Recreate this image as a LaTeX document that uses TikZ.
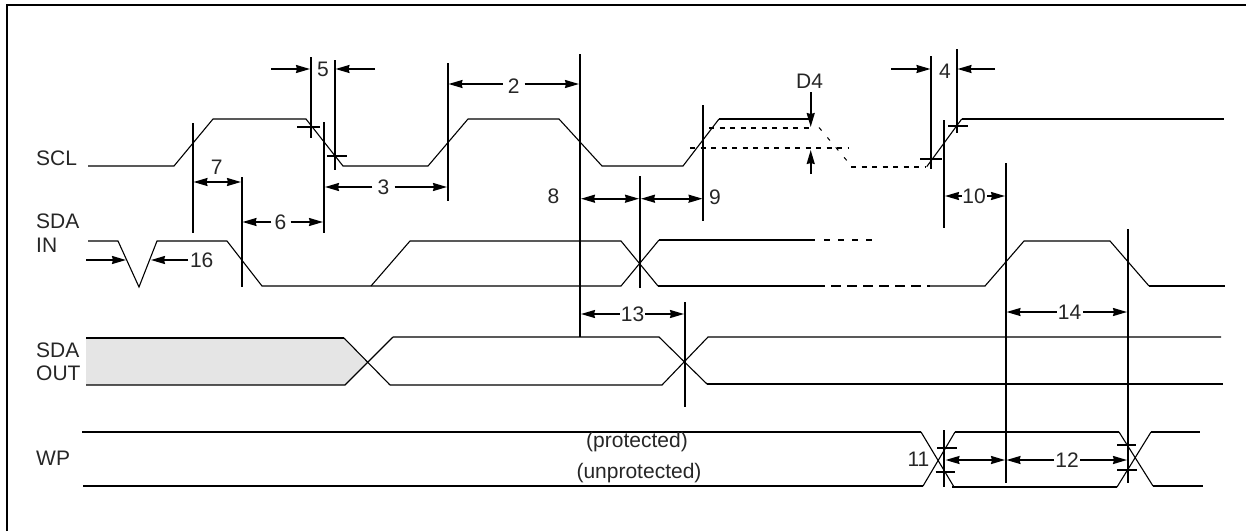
\documentclass[tikz,border=0pt]{standalone}
\usepackage{fontspec}
\setmainfont{Liberation Sans}
\usetikzlibrary{arrows.meta}
\tikzset{
    wave/.style={line width=1.1pt, line join=miter},
    heavy/.style={line width=1.8pt},
    guide/.style={line width=1.9pt},
    tick/.style={line width=1.7pt},
    dotty/.style={line width=1.7pt, dash pattern=on 5pt off 5.5pt},
    dim/.style={line width=1.7pt, -{Stealth[length=14pt,width=8pt,inset=1pt]}},
    dimboth/.style={line width=1.7pt, {Stealth[length=14pt,width=8pt,inset=1pt]}-{Stealth[length=14pt,width=8pt,inset=1pt]}},
    lab/.style={font=\fontsize{21}{23}\selectfont, inner sep=0pt, text=black!85},
    sig/.style={lab, anchor=west}
}
\begin{document}
\begin{tikzpicture}[x=1pt,y=-1pt]
                \useasboundingbox (0,0) rectangle (1246,531);
                \draw [line width=2pt] (7,531) -- (7,4.5) -- (1246,4.5);
                % signal names
                \node[sig] (scl) at (36,158) {SCL};
                \node[sig] (sdain) at (36,221.5) {SDA};
                \node[sig] (in) at (36,245.5) {IN};
                \node[sig] (sdaout) at (36,350) {SDA};
                \node[sig] (out) at (36,373.5) {OUT};
                \node[sig] (wp) at (36,458) {WP};
                % SCL
                \draw [wave] (88,166) -- (174,166) -- (213,119) -- (306,119) -- (343,166) -- (428,166) -- (468,119) -- (559,119) -- (602,166) -- (683,166) -- (719,119);
                \draw [heavy] (719,119) -- (811,119);
                \draw [dotty] (709,127.7) -- (812,127.7);
                \draw [dotty] (690,147.7) -- (848,147.7);
                \draw [line width=1pt, dash pattern=on 4pt off 9pt] (819,127.5) -- (852,166.7);
                \draw [dotty] (851,166.7) -- (926,166.7);
                \draw [wave] (926.7,166.7) -- (961.7,119);
                \draw [heavy] (961.7,119) -- (1224,119);
                % SDA IN
                \draw [wave] (88,241) -- (118,241) -- (139,287) -- (157,241) -- (227,241) -- (262,286) -- (621,286) -- (659,240);
                \draw [wave] (371,286) -- (410,241) -- (621,241) -- (658,286);
                \draw [heavy] (659,240) -- (815,240);
                \draw [line width=1.7pt, dash pattern=on 6pt off 8pt] (824,240) -- (877,240);
                \draw [heavy] (658,286) -- (815,286);
                \draw [line width=1.2pt, dash pattern=on 10pt off 6pt] (815,286) -- (930,286);
                \draw [wave] (930,286) -- (985,286) -- (1024,241) -- (1110,241) -- (1149,286);
                \draw [heavy] (1149,286) -- (1225,286);
                % SDA OUT
                \fill [black!10] (86,338) -- (344,338) -- (367.5,361.5) -- (345,385) -- (86,385) -- cycle;
                \draw [heavy] (86,338) -- (344,338);
                \draw [wave] (344,338) -- (390,385);
                \draw [wave] (86,385) -- (345,385) -- (393,337);
                \draw [wave] (393,337) -- (659,337) -- (707,384);
                \draw [wave] (390,385) -- (662,385) -- (708,337) -- (1221,337);
                \draw [heavy] (707,384) -- (1223,384);
                % WP
                \draw [heavy] (82,432) -- (921,432);
                \draw [heavy] (83,486) -- (923,486);
                \draw [wave] (921,432) -- (954,487);
                \draw [wave] (923,486) -- (955,432);
                \draw [heavy] (955,432) -- (1119,432);
                \draw [heavy] (952,487) -- (1117,487);
                \draw [wave] (1119,432) -- (1153,486);
                \draw [wave] (1117,487) -- (1151,432);
                \draw [heavy] (1151,432) -- (1200,432);
                \draw [heavy] (1153,486) -- (1203,486);
                % timing guides
                \draw [guide] (192.7,123) -- (192.7,233);
                \draw [guide] (241.7,177) -- (241.7,287);
                \draw [guide] (310.7,57) -- (310.7,138);
                \draw [guide] (324,122) -- (324,233);
                \draw [guide] (334.7,60) -- (334.7,170);
                \draw [guide] (447.7,63) -- (447.7,200.7);
                \draw [guide] (580,54) -- (580,337);
                \draw [guide] (639.7,176) -- (639.7,287.7);
                \draw [guide] (685,302) -- (685,406.7);
                \draw [guide] (703,105) -- (703,220.7);
                \draw [guide] (931,56) -- (931,169);
                \draw [guide] (944,120) -- (944,228);
                \draw [guide] (956.7,49) -- (956.7,133);
                \draw [guide] (1005.7,163) -- (1005.7,482.7);
                \draw [guide] (1127.7,229) -- (1127.7,482.7);
                \draw [guide] (944,430) -- (944,486.7);
                % level ticks
                \draw [tick] (297,126.7) -- (320,126.7);
                \draw [tick] (327,155.7) -- (346.7,155.7);
                \draw [tick] (920,159.3) -- (942,159.3);
                \draw [tick] (948,125.7) -- (967.7,125.7);
                \draw [tick] (937,447.7) -- (957,447.7);
                \draw [tick] (935.7,471.7) -- (954.7,471.7);
                \draw [tick] (1117,445) -- (1135.7,445);
                \draw [tick] (1117,470) -- (1136.7,470);
                % labels
                \node[lab] (t2) at (513.7,86) {2};
                \node[lab] (t3) at (383.5,187) {3};
                \node[lab] (t4) at (945,71) {4};
                \node[lab] (t5) at (323,69) {5};
                \node[lab] (t6) at (280.5,222) {6};
                \node[lab] (t7) at (216.7,167) {7};
                \node[lab] (t8) at (553.5,196.7) {8};
                \node[lab] (t9) at (715,197) {9};
                \node[lab] (t10) at (974,196) {10};
                \node[lab] (t11) at (918.5,459.5) {11};
                \node[lab] (t12) at (1067,460) {12};
                \node[lab] (t13) at (632.5,314) {13};
                \node[lab] (t14) at (1069.5,312) {14};
                \node[lab] (t16) at (201.7,260) {16};
                \node[lab] (d4) at (809.5,81) {D4};
                \node[lab] (prot) at (637,442) {(protected)};
                \node[lab] (unprot) at (639,473) {(unprotected)};
                % timing arrows
                \coordinate (a2l) at (448.5,84);
                \coordinate (a2r) at (579,84);
                \coordinate (a3l) at (325,187);
                \coordinate (a3r) at (447,187);
                \coordinate (a6l) at (242.5,222);
                \coordinate (a6r) at (323,222);
                \coordinate (a10l) at (945,196);
                \coordinate (a10r) at (1005,196);
                \coordinate (a12l) at (1006.5,460);
                \coordinate (a12r) at (1127,460);
                \coordinate (a13l) at (581,314);
                \coordinate (a13r) at (684,314);
                \coordinate (a14l) at (1006.5,312);
                \coordinate (a14r) at (1127,312);
                \draw[dim, shorten <=5pt] (t2.west |- a2l) -- (a2l);
                \draw[dim, shorten <=5pt] (t2.east |- a2r) -- (a2r);
                \draw[dim, shorten <=5pt] (t3) -- (a3l);
                \draw[dim, shorten <=5pt] (t3) -- (a3r);
                \draw[dim, shorten <=3pt] (t6) -- (a6l);
                \draw[dim, shorten <=4pt] (t6) -- (a6r);
                \draw[dim] (t10) -- (a10l);
                \draw[dim, shorten <=1pt] (t10) -- (a10r);
                \draw[dim, shorten <=1pt] (t12) -- (a12l);
                \draw[dim, shorten <=1pt] (t12) -- (a12r);
                \draw[dim, shorten <=1pt] (t13) -- (a13l);
                \draw[dim, shorten <=1pt] (t13) -- (a13r);
                \draw[dim, shorten <=1pt] (t14) -- (a14l);
                \draw[dim, shorten <=2pt] (t14) -- (a14r);
                \draw[dim] (271,69) -- (310,69);
                \draw[dim] (375,69) -- (335.5,69);
                \draw[dim] (891,69) -- (930.5,69);
                \draw[dim] (995,69) -- (957.5,69);
                \draw[dim] (86,260) -- (126,260);
                \draw[dim] (188,260) -- (151,260);
                \draw[dim] (810.7,92) -- (810.7,127);
                \draw[dim] (810.7,174) -- (810.7,150);
                \draw[dimboth] (193.5,182) -- (241,182);
                \draw[dimboth] (581,198.7) -- (639,198.7);
                \draw[dimboth] (641,198.7) -- (702.5,198.7);
                \draw[dimboth] (945.5,460) -- (1005,460);
\end{tikzpicture}
\end{document}
